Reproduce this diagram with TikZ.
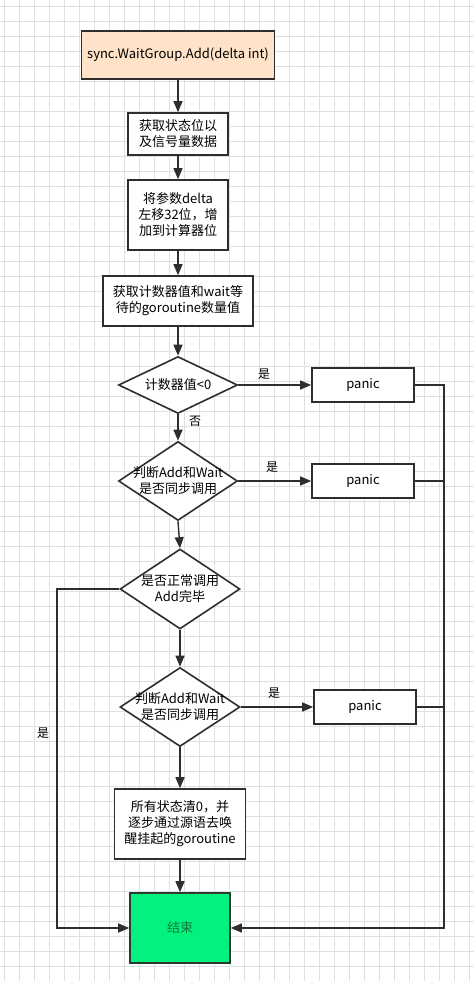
\documentclass[tikz,border=0pt]{standalone}
\usepackage{fontspec}
\setmainfont{Noto Sans CJK SC}
\usetikzlibrary{positioning}
\usetikzlibrary{arrows.meta}
\usetikzlibrary{shapes.geometric}
\definecolor{startfill}{HTML}{FFE3C8}
\definecolor{endfill}{HTML}{03F27E}
\definecolor{endtext}{HTML}{0D7A3C}
\definecolor{ink}{HTML}{2E2E2E}
\definecolor{gridgray}{HTML}{E0E0E0}

\begin{document}
\begin{tikzpicture}[x=1pt, y=-1pt,
    FLOW/.style={rectangle, draw=ink, fill=white, line width=1.6pt, align=center, inner sep=2pt, font=\fontsize{13}{16}\selectfont},
    DEC/.style={diamond, draw=ink, fill=white, line width=1.6pt, inner sep=0pt},
    DECTXT/.style={align=center, font=\fontsize{13}{16}\selectfont},
    LBL/.style={font=\fontsize{12}{14}\selectfont},
    LINK/.style={draw=ink, line width=1.4pt, -{Triangle[length=11pt, width=9pt]}},
    BUS/.style={draw=ink, line width=1.4pt},
    ]
        \useasboundingbox (0,0) rectangle (474,981);
        \foreach \gx in {4,19,...,469} \draw[gridgray, line width=0.7pt] (\gx,0) -- (\gx,981);
        \foreach \gy in {6,21,...,976} \draw[gridgray, line width=0.7pt] (0,\gy) -- (474,\gy);

        \node[FLOW, fill=startfill, minimum width=193pt, minimum height=48pt] (start) at (178,55) {sync.WaitGroup.Add(delta int)};
        \node[FLOW, minimum width=100pt, minimum height=42pt] (state) at (178,134) {获取状态位以\\及信号量数据};
        \node[FLOW, minimum width=100pt, minimum height=70pt] (shift) at (178,215) {将参数delta\\左移32位，增\\加到计算器位};
        \node[FLOW, minimum width=150pt, minimum height=50pt] (count) at (178,301) {获取计数器值和wait等\\待的goroutine数量值};

        \node[DEC, minimum width=119pt, minimum height=57pt, label={[DECTXT]center:计数器值<0}] (neg) at (178,385) {};
        \node[FLOW, minimum width=102pt, minimum height=34pt] (panicA) at (363,385) {panic};

        \node[DEC, minimum width=119pt, minimum height=79pt, label={[DECTXT]center:{判断Add和Wait\\是否同步调用}}] (syncA) at (178,481) {};
        \node[FLOW, minimum width=102pt, minimum height=34pt] (panicB) at (363,481) {panic};

        \node[DEC, minimum width=120pt, minimum height=80pt, label={[DECTXT]center:{是否正常调用\\Add完毕}}] (done) at (180,589) {};

        \node[DEC, minimum width=120pt, minimum height=79pt, label={[DECTXT]center:{判断Add和Wait\\是否同步调用}}] (syncB) at (180,707) {};
        \node[FLOW, minimum width=102pt, minimum height=34pt] (panicC) at (365,707) {panic};

        \node[FLOW, minimum width=131pt, minimum height=70pt] (wake) at (180,824) {所有状态清0，并\\逐步通过源语去唤\\醒挂起的goroutine};
        \node[FLOW, fill=endfill, draw=ink!80!endtext, text=endtext, minimum width=100pt, minimum height=70pt] (finish) at (180,928) {结束};

        \coordinate (rbus) at (444,385);
        \coordinate (lbus) at (57,589);

        \draw[LINK] (start.south) -- (state.north);
        \draw[LINK] (state.south) -- (shift.north);
        \draw[LINK] (shift.south) -- (count.north);
        \draw[LINK] (count.south) -- (neg.north);
        \draw[LINK] (neg.east) -- (panicA.west);
        \draw[LINK] (neg.south) -- (syncA.north);
        \draw[LINK] (syncA.east) -- (panicB.west);
        \draw[LINK] (syncA.south) -- (done.north);
        \draw[LINK] (done.south) -- (syncB.north);
        \draw[LINK] (syncB.east) -- (panicC.west);
        \draw[LINK] (syncB.south) -- (wake.north);
        \draw[LINK] (wake.south) -- (finish.north);

        \draw[LINK] (panicA.east) -- (rbus) |- (finish.east);
        \draw[BUS] (panicB.east) -- (panicB.east -| rbus);
        \draw[BUS] (panicC.east) -- (panicC.east -| rbus);
        \draw[LINK] (done.west) -- (lbus) |- (finish.west);

        \node[LBL] (yesA) at (264,374) {是};
        \node[LBL] (noA) at (195,421) {否};
        \node[LBL] (yesB) at (272,467) {是};
        \node[LBL] (yesC) at (274,693) {是};
        \node[LBL] (yesD) at (43,733) {是};
    \end{tikzpicture}
\end{document}
